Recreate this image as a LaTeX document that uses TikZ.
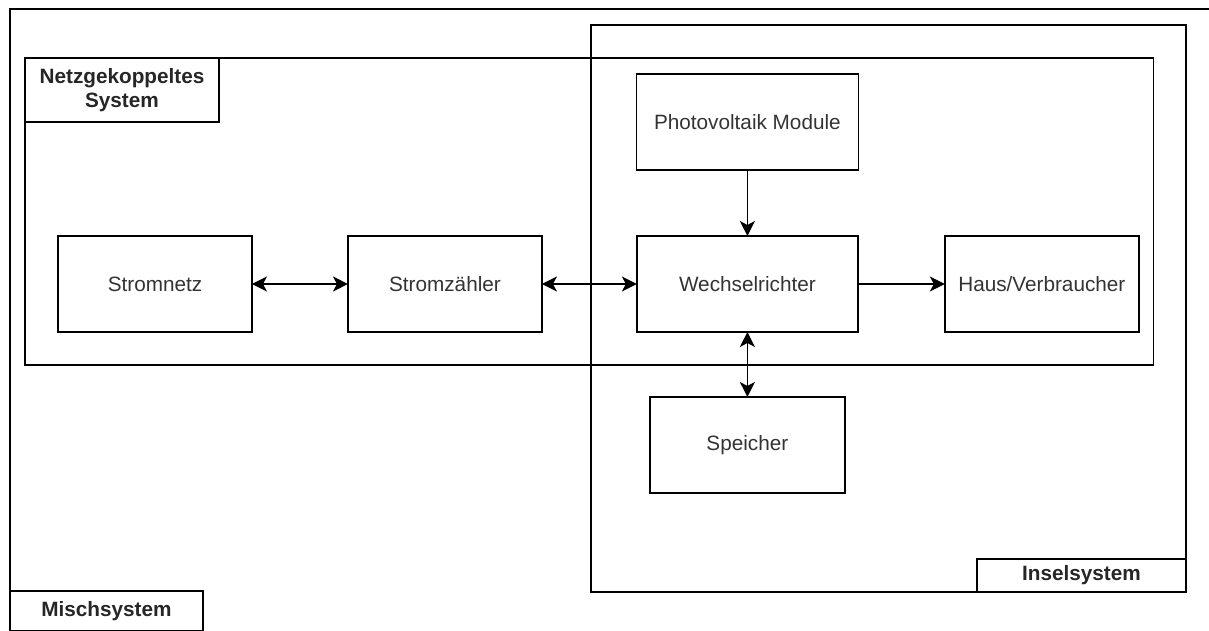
\documentclass[tikz,border=0pt]{standalone}
\usepackage{fontspec}
\setmainfont{Liberation Sans}
\usetikzlibrary{arrows.meta,positioning}
\tikzset{>={Stealth[length=3mm,width=3mm,inset=0.8mm]}}
\tikzset{block/.style={draw,line width=0.8pt,outer sep=0pt,inner sep=0pt,minimum width=3.88cm,minimum height=1.92cm,font=\fontsize{11.8}{12}\selectfont,text=black!80}}
\tikzset{frame/.style={draw,line width=0.8pt,outer sep=0pt,inner sep=0pt}}
\tikzset{tag/.style={draw,line width=0.8pt,outer sep=0pt,inner sep=0pt,align=center,font=\fontsize{11.8}{13.5}\selectfont\bfseries,text=black!85}}
\tikzset{link/.style={line width=0.8pt}}

\begin{document}
\begin{tikzpicture}[x=0.02cm,y=-0.02cm]
  \useasboundingbox (0,0) rectangle (1209,631);
  \clip (0,0) rectangle (1209,631);

  % Frames
  \node[frame,anchor=north west,minimum width=25cm,minimum height=13cm] (misch) at (10,9) {};
  \node[frame,anchor=north west,minimum width=11.9cm,minimum height=11.34cm] (insel) at (591,25) {};
  \node[frame,anchor=north west,minimum width=22.58cm,minimum height=6.14cm] (netz) at (25,58) {};

  % Tags
  \node[tag,anchor=north west,minimum width=3.88cm,minimum height=1.28cm] (netztag) at (netz.north west) {Netzgekoppeltes\\System};
  \node[tag,anchor=south east,minimum width=4.18cm,minimum height=0.66cm] (inseltag) at (insel.south east) {Inselsystem};
  \node[tag,anchor=north west,minimum width=3.86cm,minimum height=0.8cm] (mischtag) at (10,591) {Mischsystem};

  % Blocks
  \node[block] (strom) at (155,284) {Stromnetz};
  \node[block,right=1.92cm of strom] (zaehler) {Stromzähler};
  \node[block,minimum width=4.42cm,right=1.9cm of zaehler] (wr) {Wechselrichter};
  \node[block,right=1.74cm of wr] (haus) {Haus/Verbraucher};
  \node[block,minimum width=4.44cm,above=1.32cm of wr] (pv) {Photovoltaik Module};
  \node[block,minimum width=3.9cm,below=1.3cm of wr] (speicher) {Speicher};

  % Lines
  \draw[link,<->] (strom) -- (zaehler);
  \draw[link,<->] (zaehler) -- (wr);
  \draw[link,->] (wr) -- (haus);
  \draw[link,->] (pv) -- (wr);
  \draw[link,<->] (wr) -- (speicher);
\end{tikzpicture}
\end{document}
